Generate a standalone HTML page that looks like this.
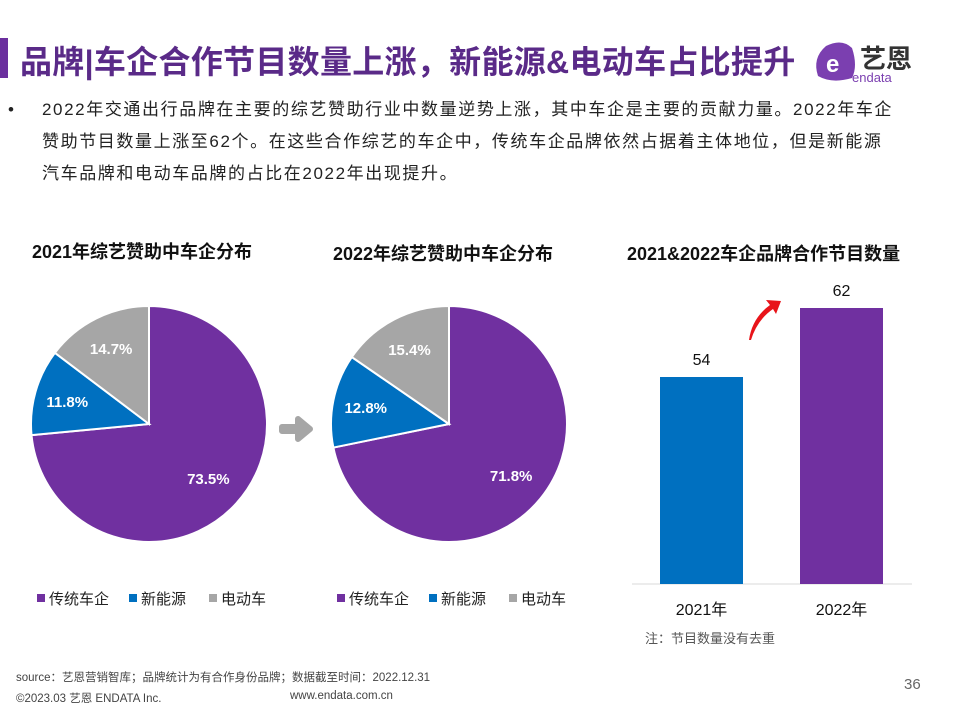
<!DOCTYPE html>
<html><head><meta charset="utf-8"><style>
body{margin:0;width:960px;height:720px;background:#fff;font-family:"Liberation Sans","Noto Sans CJK SC",sans-serif;position:relative;overflow:hidden}
.a{position:absolute;white-space:nowrap}
</style></head><body>
<div class="a" style="left:0;top:38px;width:8px;height:40px;background:#6b2f9e"></div>
<div class="a" style="left:20px;top:37px;font-size:32px;font-weight:bold;color:#5a2a88;letter-spacing:0.3px">品牌|车企合作节目数量上涨，新能源&amp;电动车占比提升</div>
<div class="a" style="left:812px;top:38px;width:110px;height:46px">
<svg width="110" height="46"><path d="M6 38 Q0 20 14 8 Q30 0 40 10 Q46 28 40 40 Q20 46 6 38Z" fill="#7b3fb0"/><text x="14" y="34" font-size="24" fill="#fff" font-weight="bold" font-family="Liberation Sans">e</text><text x="48" y="30" font-size="26" font-weight="bold" fill="#333" font-family="Noto Sans CJK SC">艺恩</text><text x="40" y="44" font-size="13" fill="#7b3fb0" font-family="Liberation Sans">endata</text></svg></div>
<div class="a" style="left:8px;top:94px;font-size:17px;line-height:32px;color:#222;width:900px">
<span style="position:absolute;left:0">•</span><div style="margin-left:34px;letter-spacing:1.6px">2022年交通出行品牌在主要的综艺赞助行业中数量逆势上涨，其中车企是主要的贡献力量。2022年车企<br>赞助节目数量上涨至62个。在这些合作综艺的车企中，传统车企品牌依然占据着主体地位，但是新能源<br>汽车品牌和电动车品牌的占比在2022年出现提升。</div></div>
<div class="a" style="left:32px;top:238px;font-size:18px;font-weight:bold;color:#111">2021年综艺赞助中车企分布</div>
<div class="a" style="left:333px;top:240px;font-size:18px;font-weight:bold;color:#111">2022年综艺赞助中车企分布</div>
<div class="a" style="left:627px;top:240px;font-size:18px;font-weight:bold;color:#111">2021&amp;2022车企品牌合作节目数量</div>
<svg id="chart" class="a" style="left:0;top:0" width="960" height="720"></svg>
<div class="a" style="left:645px;top:628px;font-size:13px;color:#555">注：节目数量没有去重</div>
<div class="a" style="left:16px;top:669px;font-size:11.5px;color:#444">source：艺恩营销智库；品牌统计为有合作身份品牌；数据截至时间：2022.12.31</div>
<div class="a" style="left:16px;top:690px;font-size:11.5px;color:#444">©2023.03 艺恩 ENDATA Inc.</div>
<div class="a" style="left:290px;top:690px;font-size:11.5px;color:#444">www.endata.com.cn</div>
<div class="a" style="left:904px;top:676px;font-size:15px;color:#666">36</div>
<script>
const pieCategories=["传统车企","新能源","电动车"];
const pie2021=[73.5,11.8,14.7];
const pie2022=[71.8,12.8,15.4];
const pieColors=["#7030a0","#0070c0","#a6a6a6"];
const barCategories=["2021年","2022年"];
const barValues=[54,62];
const barColors=["#0070c0","#7030a0"];
const NS="http://www.w3.org/2000/svg";
const svg=document.getElementById('chart');
function mk(t,at,txt){const e=document.createElementNS(NS,t);for(const k in at)e.setAttribute(k,at[k]);if(txt!==undefined)e.textContent=txt;svg.appendChild(e);return e;}
function pie(cx,cy,r,vals,tag){
 const tot=vals.reduce((a,b)=>a+b,0);let a0=-Math.PI/2;
 vals.forEach((v,i)=>{const a1=a0+v/tot*2*Math.PI;
  const large=(a1-a0)>Math.PI?1:0;
  const p=mk('path',{d:`M${cx},${cy} L${cx+r*Math.cos(a0)},${cy+r*Math.sin(a0)} A${r},${r} 0 ${large} 1 ${cx+r*Math.cos(a1)},${cy+r*Math.sin(a1)} Z`,fill:pieColors[i],stroke:'#fff','stroke-width':2});
  
  
  const m=(a0+a1)/2,lr=i==0?r*0.68:r*0.72;
  const t=mk('text',{x:cx+lr*Math.cos(m),y:cy+lr*Math.sin(m)+6,'text-anchor':'middle','font-size':15,'font-weight':'bold',fill:'#fff','font-family':'Liberation Sans'},v.toFixed(1)+'%');
  
  
  a0=a1;});
 pieCategories.forEach((c,i)=>{
  const x=[cx-112,cx-20,cx+60][i];
  const s=mk('rect',{x:x,y:594,width:8,height:8,fill:pieColors[i]});
  
  
  const t=mk('text',{x:x+12,y:604,'font-size':15,fill:'#222'},c);
  
  });
}
pie(149,424,118,pie2021,'pie2021');
pie(449,424,118,pie2022,'pie2022');
const ar=mk('path',{d:'M282 427 L298 427 L298 419 L310 429 L298 439 L298 431 L282 431 Z',fill:'#a6a6a6',stroke:'#a6a6a6','stroke-width':6,'stroke-linejoin':'round'});


const base=584,k=8.625,vmin=30;
function yv(v){return base-(v-vmin)*k;}
const bx=[660,800],bw=83;
const ax=mk('line',{x1:632,y1:base,x2:912,y2:base,stroke:'#d9d9d9','stroke-width':1});


barValues.forEach((v,i)=>{
 const r=mk('rect',{x:bx[i],y:yv(v),width:bw,height:base-yv(v),fill:barColors[i]});
 
 
 const t=mk('text',{x:bx[i]+bw/2,y:yv(v)-12,'text-anchor':'middle','font-size':16,fill:'#111'},v);
 
 
 const c=mk('text',{x:bx[i]+bw/2,y:base+31,'text-anchor':'middle','font-size':16,fill:'#111'},barCategories[i]);
 
 
});
const ra=mk('path',{d:'M749 340 Q752 318 770 305 L766 300 L781 301 L776 314 L773 309 Q757 320 751 340 Z',fill:'#e8141a'});


</script>
</body></html>
